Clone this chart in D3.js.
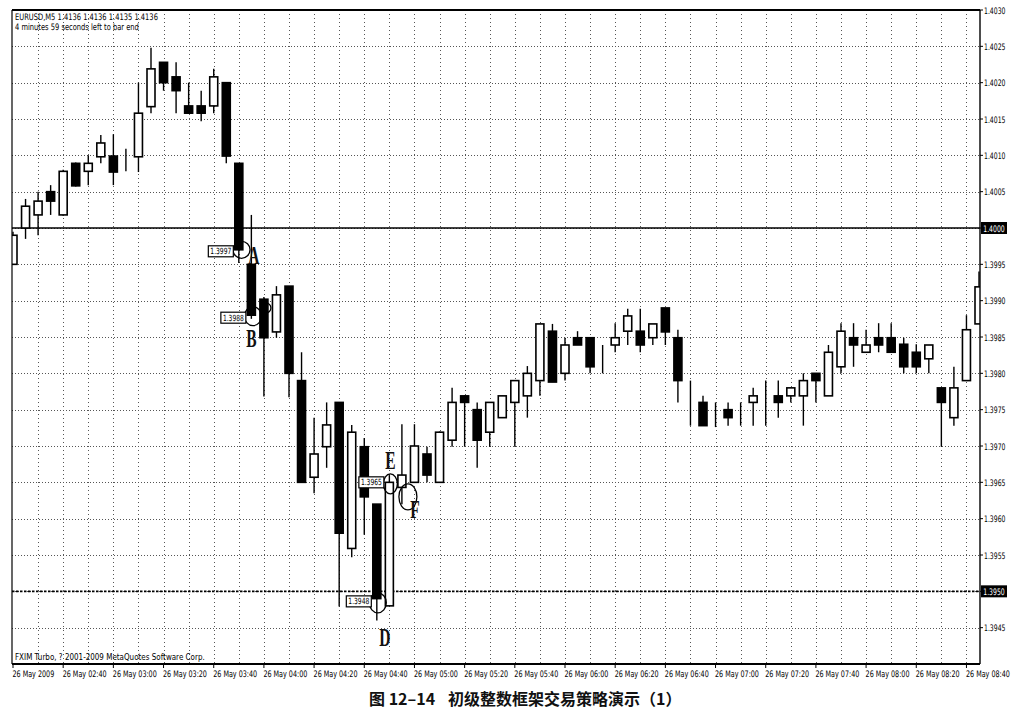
<!DOCTYPE html>
<html><head><meta charset="utf-8">
<script src="https://cdn.jsdelivr.net/npm/d3@7"></script>
<style>
html,body{margin:0;padding:0;background:#fff;}
svg{display:block;}
</style></head><body>
<svg id="chart" width="1021" height="721"></svg>
<script>
// ---------- DATA ----------
const times = ["02:20","02:25","02:30","02:35","02:40","02:45","02:50","02:55","03:00","03:05","03:10","03:15","03:20","03:25","03:30","03:35","03:40","03:45","03:50","03:55","04:00","04:05","04:10","04:15","04:20","04:25","04:30","04:35","04:40","04:45","04:50","04:55","05:00","05:05","05:10","05:15","05:20","05:25","05:30","05:35","05:40","05:45","05:50","05:55","06:00","06:05","06:10","06:15","06:20","06:25","06:30","06:35","06:40","06:45","06:50","06:55","07:00","07:05","07:10","07:15","07:20","07:25","07:30","07:35","07:40","07:45","07:50","07:55","08:00","08:05","08:10","08:15","08:20","08:25","08:30","08:35","08:40","08:45"];
const opens  = [1.3995,1.4000,1.40018,1.4005,1.40018,1.40089,1.40078,1.40098,1.40099,1.40089,1.40098,1.40167,1.40228,1.40208,1.40168,1.40168,1.40168,1.4020,1.40089,1.3995,1.39902,1.39857,1.3992,1.3979,1.39657,1.39699,1.3976,1.39559,1.39699,1.3962,1.3948,1.39643,1.3965,1.39689,1.3965,1.39708,1.39769,1.3975,1.39719,1.39739,1.3976,1.39769,1.3979,1.39858,1.3980,1.39849,1.39849,1.39829,1.39839,1.39858,1.39858,1.39849,1.3989,1.39849,1.39769,1.3976,1.39739,1.3975,1.3975,1.3976,1.3976,1.39769,1.39769,1.39769,1.3980,1.39769,1.39809,1.39849,1.39829,1.39849,1.39849,1.3984,1.39829,1.3982,1.3978,1.39739,1.3979,1.39868];
const highs  = [1.39995,1.4004,1.4005,1.40059,1.4008,1.4009,1.4010,1.40128,1.40129,1.40109,1.4020,1.40248,1.40228,1.40228,1.4020,1.40189,1.40219,1.4020,1.40089,1.40018,1.39905,1.3992,1.3992,1.39829,1.39739,1.3976,1.3976,1.39729,1.39711,1.3962,1.3966,1.3973,1.3973,1.39699,1.3972,1.3978,1.3977,1.3976,1.3976,1.39769,1.3979,1.3981,1.39868,1.39868,1.39849,1.39858,1.39849,1.39839,1.39869,1.39889,1.39889,1.39868,1.3989,1.3986,1.3979,1.39769,1.3976,1.3976,1.3976,1.3978,1.3979,1.3979,1.3978,1.3980,1.3980,1.39839,1.39869,1.39869,1.3986,1.39869,1.39869,1.39849,1.3984,1.39839,1.3978,1.39809,1.3988,1.3994];
const lows   = [1.3995,1.39985,1.3999,1.40018,1.40017,1.40057,1.40059,1.40089,1.40059,1.40078,1.40077,1.40158,1.40189,1.40158,1.40158,1.40147,1.40158,1.40089,1.39952,1.39875,1.39768,1.39849,1.39767,1.3965,1.39635,1.3967,1.39479,1.39547,1.39578,1.3946,1.3948,1.3962,1.3965,1.3965,1.3965,1.39699,1.39699,1.3967,1.39699,1.39739,1.39699,1.39739,1.39769,1.39788,1.3979,1.39839,1.3980,1.3980,1.39829,1.39839,1.39829,1.39839,1.39839,1.3976,1.39728,1.39728,1.39726,1.39728,1.39728,1.39728,1.39728,1.39739,1.3976,1.39728,1.3976,1.39769,1.3980,1.39809,1.39829,1.39829,1.39829,1.3980,1.3980,1.3980,1.39699,1.39728,1.3979,1.39868];
const closes = [1.3999,1.4003,1.40037,1.40037,1.40078,1.40058,1.40089,1.40117,1.40077,1.40089,1.40158,1.40219,1.4020,1.40189,1.40158,1.40158,1.40208,1.40099,1.3997,1.3988,1.39849,1.39908,1.3980,1.3965,1.39689,1.39729,1.3958,1.39719,1.3963,1.3949,1.3965,1.3966,1.3970,1.3966,1.39719,1.3976,1.3976,1.39708,1.3976,1.39769,1.3979,1.3980,1.39868,1.39788,1.39839,1.39839,1.39809,1.39829,1.39849,1.39879,1.39839,1.39868,1.39857,1.3979,1.39769,1.39728,1.39739,1.39739,1.3975,1.39769,1.3976,1.3976,1.3978,1.3979,1.3979,1.39829,1.39858,1.39839,1.39839,1.39839,1.39829,1.39809,1.39809,1.39839,1.3976,1.3978,1.3986,1.39919];

const yTicks = [1.4030,1.4025,1.4020,1.4015,1.4010,1.4005,1.4000,1.3995,1.3990,1.3985,1.3980,1.3975,1.3970,1.3965,1.3960,1.3955,1.3950,1.3945];
const xTickTimes  = ["02:20","02:40","03:00","03:20","03:40","04:00","04:20","04:40","05:00","05:20","05:40","06:00","06:20","06:40","07:00","07:20","07:40","08:00","08:20","08:40"];
const xTickLabels = ["26 May 2009","26 May 02:40","26 May 03:00","26 May 03:20","26 May 03:40","26 May 04:00","26 May 04:20","26 May 04:40","26 May 05:00","26 May 05:20","26 May 05:40","26 May 06:00","26 May 06:20","26 May 06:40","26 May 07:00","26 May 07:20","26 May 07:40","26 May 08:00","26 May 08:20","26 May 08:40"];

const levelPrices = [1.4000, 1.3950];
const levelLabels = ["1.4000", "1.3950"];

const markNames  = ["A","B","C","D","E","F"];
const markTimes  = ["03:50","03:55","04:00","04:45","04:50","04:55"];
const markPrices = [1.3997,1.3988,1.3989,1.3948,1.3965,1.3963];

const tagTimes  = ["03:50","03:55","04:45","04:50"];
const tagPrices = [1.3997,1.3988,1.3948,1.3965];
const tagLabels = ["1.3997","1.3988","1.3948","1.3965"];

const headerLines = ["EURUSD,M5  1.4136 1.4136 1.4135 1.4136", "4 minutes 59 seconds left to bar end"];
const footerText = "FXIM Turbo, ? 2001-2009 MetaQuotes Software Corp.";
const titleNum = "图 12–14";
const titleText = "初级整数框架交易策略演示（1）";

// ---------- LAYOUT ----------
const L = 12, R = 980, T = 10, B = 664;
const svg = d3.select("#chart");
const FONT = "'DejaVu Sans','Liberation Sans',sans-serif";

function squeeze(sample, target, size) {
  const t = svg.append("text").attr("font-family", FONT).attr("font-size", size).text(sample);
  const w = t.node().getComputedTextLength();
  t.remove();
  return target / w;
}
const sxX = squeeze("26 May 02:40", 44, 9);
const sxY = squeeze("1.4030", 21.5, 9);
const sxH = squeeze(headerLines[0], 143, 9);
const sxF = squeeze(footerText, 190, 9);
const sxT = squeeze("1.3997", 21, 8.5);

function narrowText(sel, px, py, s, size, anchor) {
  return sel.attr("transform", (d, i) => `translate(${px(d, i)},${py(d, i)}) scale(${s},1)`)
    .attr("font-family", FONT).attr("font-size", size)
    .attr("text-anchor", anchor || "start");
}

const x = d3.scaleLinear().domain([0, times.length - 1]).range([13, 979]);
const y = d3.scaleLinear().domain([1.3940, 1.4030]).range([B, T]);
const idx = t => times.indexOf(t);

const defs = svg.append("defs");
defs.append("clipPath").attr("id", "plot").append("rect")
  .attr("x", L).attr("y", T).attr("width", R - L).attr("height", B - T);

const plot = svg.append("g").attr("clip-path", "url(#plot)");

// grid
plot.append("g").selectAll("line").data(yTicks.filter(v => v < 1.4030)).join("line")
  .attr("x1", L).attr("x2", R).attr("y1", d => Math.round(y(d)) + 0.5).attr("y2", d => Math.round(y(d)) + 0.5)
  .attr("stroke", "#555").attr("stroke-width", 1).attr("stroke-dasharray", "1,2");
plot.append("g").selectAll("line").data(times.filter((t, i) => i % 2 === 0 && i > 0)).join("line")
  .attr("x1", d => Math.round(x(idx(d))) + 0.5).attr("x2", d => Math.round(x(idx(d))) + 0.5)
  .attr("y1", T).attr("y2", B)
  .attr("stroke", "#555").attr("stroke-width", 1).attr("stroke-dasharray", "1,3");

// level lines
plot.append("g").selectAll("line").data(levelPrices).join("line")
  .attr("x1", L).attr("x2", R).attr("y1", d => y(d)).attr("y2", d => y(d))
  .attr("stroke", "#000").attr("stroke-width", 1.6)
  .attr("stroke-dasharray", (d, i) => i === 0 ? null : "2.5,1.5");

// candles
const data = times.map((t, i) => ({t, i, o: opens[i], h: highs[i], l: lows[i], c: closes[i]}));
const bw = 8;
const cg = plot.append("g").selectAll("g").data(data).join("g");
cg.append("line")
  .attr("x1", d => x(d.i)).attr("x2", d => x(d.i))
  .attr("y1", d => y(d.h)).attr("y2", d => y(d.l))
  .attr("stroke", "#000").attr("stroke-width", 1.4);
cg.append("rect")
  .attr("x", d => x(d.i) - bw / 2)
  .attr("y", d => y(Math.max(d.o, d.c)))
  .attr("width", bw)
  .attr("height", d => Math.max(0, y(Math.min(d.o, d.c)) - y(Math.max(d.o, d.c))))
  .attr("fill", d => d.c >= d.o ? "#fff" : "#000")
  .attr("stroke", "#000").attr("stroke-width", 1.6);

// marks (circles)
const markStyle = {
  A: {dx: 2.7, dy: 0,   rx: 8.5, ry: 8.5, lx: 15, ly: 14},
  B: {dx: 1.6, dy: 1,   rx: 8.5, ry: 9.5, lx: 0,  ly: 32},
  C: {dx: 2,   dy: 0,   rx: 5,   ry: 5,   lx: null},
  D: {dx: 1,   dy: -3,  rx: 8.5, ry: 10,  lx: 8,  ly: 40},
  E: {dx: 1,   dy: 1.5, rx: 7,   ry: 10,  lx: 1,  ly: -13},
  F: {dx: 6,   dy: 0,   rx: 9,   ry: 13,  lx: 13, ly: 21}
};
const marks = markNames.map((n, k) => ({n, i: idx(markTimes[k]), p: markPrices[k]}));
const mg = svg.append("g");
mg.selectAll("ellipse").data(marks).join("ellipse")
  .attr("cx", d => x(d.i) + markStyle[d.n].dx)
  .attr("cy", d => y(d.p) + markStyle[d.n].dy)
  .attr("rx", d => markStyle[d.n].rx).attr("ry", d => markStyle[d.n].ry)
  .attr("fill", "none").attr("stroke", "#000").attr("stroke-width", 1.3);

// price tags
const tagDy = [1.5, 2.5, -4.5, 0];
const tags = tagLabels.map((s, k) => ({s, i: idx(tagTimes[k]), p: tagPrices[k], k}));
const tg = svg.append("g").selectAll("g").data(tags).join("g")
  .attr("transform", d => `translate(${x(d.i) - 5.5},${y(d.p) + tagDy[d.k]})`);
tg.append("rect").attr("x", -25).attr("y", -5.5).attr("width", 25).attr("height", 11)
  .attr("fill", "#fff").attr("stroke", "#000").attr("stroke-width", 1.2);
narrowText(tg.append("text"), () => -12.5, () => 3, sxT, 8.5, "middle")
  .attr("fill", "#000").text(d => d.s);

// letters
mg.selectAll("text").data(marks.filter(d => markStyle[d.n].lx !== null)).join("text")
  .attr("transform", d => `translate(${x(d.i) + markStyle[d.n].lx},${y(d.p) + markStyle[d.n].ly}) scale(0.62,1)`)
  .attr("text-anchor", "middle")
  .attr("font-family", "'Liberation Serif','DejaVu Serif',serif")
  .attr("font-size", 25).attr("font-weight", "bold").attr("fill", "#111")
  .text(d => d.n);

// frame
svg.append("line").attr("x1", L).attr("x2", R).attr("y1", T).attr("y2", T).attr("stroke", "#000").attr("stroke-width", 2);
svg.append("line").attr("x1", L).attr("x2", R).attr("y1", B).attr("y2", B).attr("stroke", "#000").attr("stroke-width", 2);
svg.append("line").attr("x1", L).attr("x2", L).attr("y1", T).attr("y2", B).attr("stroke", "#000").attr("stroke-width", 1.2);
svg.append("line").attr("x1", R).attr("x2", R).attr("y1", T).attr("y2", B).attr("stroke", "#000").attr("stroke-width", 1.4);

// y axis labels
const ya = svg.append("g");
ya.selectAll("line").data(yTicks).join("line")
  .attr("x1", R).attr("x2", R + 3).attr("y1", d => y(d)).attr("y2", d => y(d)).attr("stroke", "#000");
narrowText(ya.selectAll("text").data(yTicks.filter(v => !levelPrices.includes(v))).join("text"),
  () => R + 4, d => y(d) + 3.5, sxY, 9).attr("fill", "#000").text(d => d.toFixed(4));
const lb = svg.append("g").selectAll("g").data(levelPrices).join("g")
  .attr("transform", d => `translate(${R + 1},${y(d)})`);
lb.append("rect").attr("x", 0).attr("y", -6).attr("width", 26).attr("height", 12).attr("fill", "#000");
narrowText(lb.append("text"), () => 13, () => 3.5, sxY, 9, "middle")
  .attr("fill", "#fff").text(d => levelLabels[levelPrices.indexOf(d)]);

// x axis labels
const xa = svg.append("g");
const xt = xTickTimes.map((t, k) => ({i: idx(t), s: xTickLabels[k]}));
xa.selectAll("line").data(xt).join("line")
  .attr("x1", d => x(d.i)).attr("x2", d => x(d.i)).attr("y1", B).attr("y2", B + 4).attr("stroke", "#000");
narrowText(xa.selectAll("text").data(xt).join("text"), d => x(d.i) - 0.5, () => B + 13, sxX, 9)
  .attr("fill", "#000").text(d => d.s);

// header / footer
narrowText(svg.append("g").selectAll("text").data(headerLines).join("text"),
  () => 15, (d, i) => 20 + i * 10, sxH, 9).attr("fill", "#000").text(d => d);
narrowText(svg.append("text").datum(footerText), () => 15, () => 660, sxF, 9)
  .attr("fill", "#000").text(d => d);

// title
svg.append("text").attr("x", 369).attr("y", 705)
  .attr("font-family", "'Noto Sans CJK SC',sans-serif").attr("font-weight", "bold")
  .attr("font-size", 16).attr("fill", "#111").text(titleNum);
svg.append("text").attr("x", 448).attr("y", 705)
  .attr("font-family", "'Noto Sans CJK SC',sans-serif").attr("font-weight", "bold")
  .attr("font-size", 16).attr("fill", "#111").text(titleText);
</script>
</body></html>
